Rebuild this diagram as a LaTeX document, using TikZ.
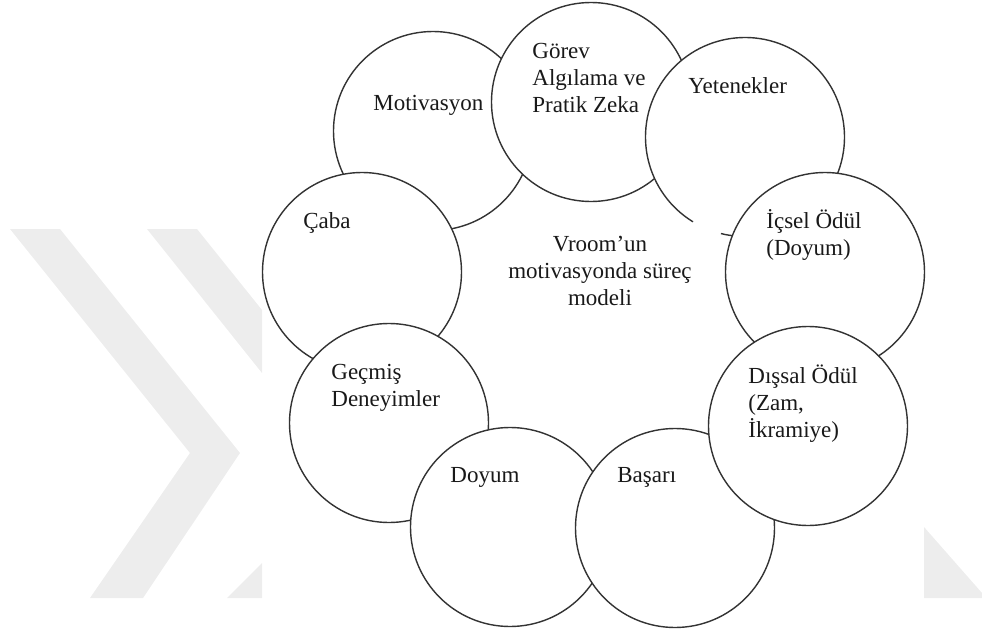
\documentclass[tikz,border=0pt]{standalone}
\usepackage{fontspec}
\setmainfont{Liberation Serif}
\usepackage{tikz}
\usetikzlibrary{positioning}

\begin{document}
\begin{tikzpicture}[
  x=0.5pt, y=-0.5pt,
  disc/.style={circle, draw=black!80, line width=0.7pt, fill=white, minimum size=99.5pt, inner sep=0pt},
  rim/.style={draw=black!80, line width=0.7pt},
  lbl/.style={font=\fontsize{11.5}{13.5}\selectfont, text=black!90, align=left, anchor=base west, inner sep=0pt},
  wmark/.style={fill=black!7, draw=none}
]
\useasboundingbox (0,0) rectangle (982,632);

\fill[wmark] (10,229) -- (60,229) -- (240,453) -- (143,598) -- (90,598) -- (190,453) -- cycle;
\fill[wmark] (147,229) -- (197,229) -- (262,310) -- (262,373) -- cycle;
\fill[wmark] (227,598) -- (262,563) -- (262,598) -- cycle;
\fill[wmark] (924,527) -- (982,593) -- (982,598) -- (924,598) -- cycle;

\node[disc] (mot) at (433,131) {};
\node[disc] (gor) at (591,102) {};
\node[disc, draw=none] (yet) at (745,137) {};
\draw[rim] ([shift={(238.5:49.75pt)}]yet.center) arc[start angle=238.5, end angle=-60, radius=49.75pt];
\draw[rim] ([shift={(256:49.75pt)}]yet.center) arc[start angle=256, end angle=275, radius=49.75pt];
\node[disc] (ics) at (825,272) {};
\node[disc] (cab) at (362,272) {};
\node[disc] (gec) at (389,423) {};
\node[disc] (doy) at (510,527) {};
\node[disc] (bas) at (675,528) {};
\node[disc] (dis) at (808,426) {};

\node[lbl] (tmot) at (373,110) {Motivasyon};
\node[lbl] (tgor) at (532,112) {Görev\\Algılama ve\\Pratik Zeka};
\node[lbl] (tyet) at (688,93) {Yetenekler};
\node[lbl] (tcab) at (303,228) {Çaba};
\node[lbl, align=center, anchor=base] (tmid) at (600,305) {Vroom’un\\motivasyonda süreç\\modeli};
\node[lbl] (tics) at (766,255) {İçsel Ödül\\(Doyum)};
\node[lbl] (tgec) at (331,406) {Geçmiş\\Deneyimler};
\node[lbl] (tdis) at (748,437) {Dışsal Ödül\\(Zam,\\İkramiye)};
\node[lbl] (tdoy) at (450,482) {Doyum};
\node[lbl] (tbas) at (617,482) {Başarı};
\end{tikzpicture}
\end{document}
